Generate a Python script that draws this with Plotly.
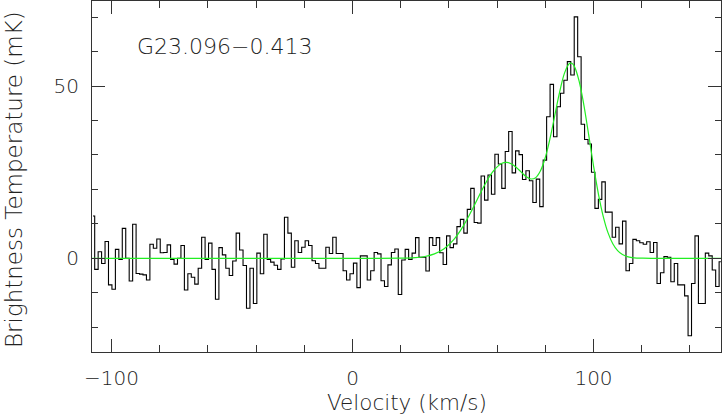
import plotly.graph_objects as go

# Spectrum channels (brightness temperature, mK)
V_START = -107.7      # centre velocity of first channel (km/s)
DV = 1.4315           # channel width (km/s)
tb_mk = [
    12.3, -3.2, 1.9, -1.5, 4.9, -7.7, -9.0, 2.6, -0.3, 8.7,
    0.0, -6.6, 9.9, -4.4, -4.6, -4.8, -6.3, 4.1, 2.9, 5.6,
    1.6, 1.7, 3.9, -0.3, -1.7, 0.0, 3.7, -9.2, -4.5, -5.5,
    -7.5, -2.9, 6.1, -0.3, 4.4, -3.2, -11.9, 3.1, 1.0, -2.9,
    -5.0, -0.8, 7.3, 2.4, -2.1, -14.5, -2.9, -13.1, 1.5, -4.5,
    7.0, -0.3, -1.1, -2.0, -3.2, -0.2, 11.9, 7.3, -2.6, 5.1,
    1.7, 3.2, 5.1, 3.7, -0.7, -1.5, -2.9, -2.9, 3.2, 1.4,
    6.1, 1.4, 1.4, -3.6, -6.3, -4.5, -1.4, -8.5, 0.7, 0.7,
    -6.3, -3.6, 1.7, 1.3, -6.5, -8.2, -1.9, 1.7, 2.7, -10.5,
    -0.5, 2.6, -0.3, 1.5, 6.0, 0.3, 0.3, -3.7, 6.0, 3.7,
    6.0, 1.6, -1.8, 6.5, 3.1, 4.2, 9.2, 11.3, 7.3, 14.2,
    20.3, 10.4, 10.2, 23.9, 16.9, 24.2, 18.6, 30.2, 27.4, 20.3,
    31.0, 36.8, 24.8, 31.2, 30.1, 22.9, 25.4, 22.5, 16.2, 23.0,
    15.0, 28.5, 41.1, 50.5, 35.3, 44.0, 47.9, 51.7, 57.1, 53.2,
    70.1, 58.5, 38.9, 34.5, 33.2, 25.0, 14.5, 17.1, 22.2, 13.4,
    13.4, 6.1, 9.0, 4.2, 10.8, -3.6, -1.5, 5.5, 5.1, 4.5,
    4.1, 4.8, 1.7, 4.6, -7.3, -4.2, 0.5, 0.3, -6.8, -1.5,
    -7.7, -7.7, -10.9, -22.5, -7.3, 6.5, -13.1, -13.1, 1.5, 0.7,
    -3.4, -8.2, -1.0,
]
velocity = [round(V_START + i * DV, 3) for i in range(len(tb_mk))]

# Fitted profile (green)
fit_v = [-108, 0, 20, 26, 30, 34, 38, 42, 46, 50, 54, 58, 62, 64, 66, 68, 70,
         72, 74, 76, 78, 80, 82, 84, 86, 88, 90, 91, 92, 94, 96, 98, 100,
         102, 104, 106, 108, 110, 112, 114, 116, 118, 120, 124, 153]
fit_t = [0, 0, 0.03, 0.19, 0.53, 1.29, 2.80, 5.43, 9.43, 14.61, 20.21, 24.98,
         27.58, 27.87, 27.40, 26.38, 25.03, 23.75, 23.03, 23.41, 25.41, 29.29,
         34.93, 41.69, 48.45, 53.83, 56.54, 56.62, 55.79, 51.53, 44.47, 35.81,
         26.88, 18.81, 12.27, 7.45, 4.22, 2.21, 1.08, 0.50, 0.21, 0.08, 0.03,
         0, 0]

source_name = "G23.096\u22120.413"
x_title = "Velocity (km/s)"
y_title = "Brightness Temperature (mK)"
x_ticks = [-100, 0, 100]
y_ticks = [0, 50]

FONT = dict(family="DejaVu Sans", size=20, color="#222222", weight=300)
XTITLE_FONT = dict(family="DejaVu Sans", size=21.5, color="#222222", weight=300)
YTITLE_FONT = dict(family="DejaVu Sans", size=23, color="#222222", weight=300)
NAME_FONT = dict(family="DejaVu Sans", size=22, color="#222222", weight=300)

fig = go.Figure()
fig.add_trace(go.Scatter(x=velocity, y=tb_mk, mode="lines",
                         line=dict(shape="hvh", color="black", width=1.1),
                         hoverinfo="skip", showlegend=False))
fig.add_trace(go.Scatter(x=fit_v, y=fit_t, mode="lines",
                         line=dict(shape="spline", color="#22ee22", width=1.2),
                         hoverinfo="skip", showlegend=False))

axis_common = dict(showgrid=False, zeroline=False, showline=True,
                   linecolor="#333333", linewidth=1.2, mirror="allticks",
                   ticks="inside", ticklen=13, tickwidth=1, tickcolor="#333333",
                   tickfont=FONT, automargin=False)

fig.update_xaxes(range=[-108.1, 152.9], tickvals=x_ticks,
                 minor=dict(dtick=20, tick0=0, ticks="inside", ticklen=7,
                            tickcolor="#333333", tickwidth=1),
                 ticklabelstandoff=8, **axis_common)
fig.update_yaxes(range=[-27.2, 74.7], tickvals=y_ticks,
                 minor=dict(dtick=10, tick0=0, ticks="inside", ticklen=6,
                            tickcolor="#333333", tickwidth=1),
                 ticklabelstandoff=8, **axis_common)

fig.add_annotation(x=-90.2, y=61.6, xref="x", yref="y", text=source_name,
                   showarrow=False, xanchor="left", yanchor="middle", font=NAME_FONT)
fig.add_annotation(x=0.5, y=-0.144, xref="paper", yref="paper", text=x_title,
                   showarrow=False, xanchor="center", yanchor="middle", font=XTITLE_FONT)
fig.add_annotation(x=-0.124, y=0.49, xref="paper", yref="paper", text=y_title,
                   textangle=-90, showarrow=False, xanchor="center",
                   yanchor="middle", font=YTITLE_FONT)

fig.update_layout(width=722, height=415, autosize=False,
                  margin=dict(l=92, r=1, t=1, b=63),
                  paper_bgcolor="white", plot_bgcolor="white")

post = ("document.body.style.margin='0';"
        "document.body.style.overflow='hidden';"
        "var gd=document.getElementById('{plot_id}');"
        "Plotly.relayout(gd,{width:722,height:415});")
fig.write_html("out.html", config={"responsive": False, "displayModeBar": False},
               post_script=post)
